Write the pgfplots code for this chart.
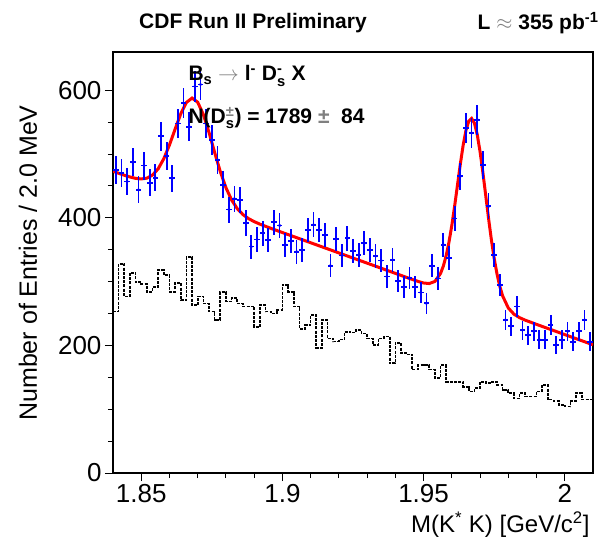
\documentclass[border=0pt]{standalone}
\usepackage{pgfplots}
\pgfplotsset{compat=1.18}
\usepackage{pgfplotstable}
\usepackage{amsmath}
\usepackage{fontspec}
\setmainfont{Liberation Sans}

\pgfplotstableread{
x y ey
1.841 475 21.8
1.843 470 21.7
1.845 457 21.4
1.847 487 22.1
1.849 444 21.1
1.851 482 22.0
1.853 455 21.3
1.855 463 21.5
1.857 528 23.0
1.859 497 22.3
1.861 462 21.5
1.863 548 23.4
1.865 580 24.1
1.867 543 23.3
1.869 606 24.6
1.871 609 24.7
1.873 548 23.4
1.875 522 22.8
1.877 491 22.2
1.879 452 21.3
1.881 413 20.3
1.883 430 20.7
1.885 428 20.7
1.887 392 19.8
1.889 355 18.8
1.891 366 19.1
1.893 376 19.4
1.895 365 19.1
1.897 393 19.8
1.899 388 19.7
1.901 358 18.9
1.903 364 19.1
1.905 347 18.6
1.907 350 18.7
1.909 381 19.5
1.911 389 19.7
1.913 381 19.5
1.915 373 19.3
1.917 325 18.0
1.919 367 19.2
1.921 341 18.5
1.923 368 19.2
1.925 348 18.7
1.927 342 18.5
1.929 360 19.0
1.931 350 18.7
1.933 340 18.4
1.935 333 18.2
1.937 308 17.5
1.939 334 18.3
1.941 301 17.3
1.943 291 17.1
1.945 306 17.5
1.947 292 17.1
1.949 283 16.8
1.951 266 16.3
1.953 325 18.0
1.955 305 17.5
1.957 358 18.9
1.959 337 18.4
1.961 399 20.0
1.963 465 21.6
1.965 541 23.3
1.967 533 23.1
1.969 554 23.5
1.971 483 22.0
1.973 418 20.4
1.975 342 18.5
1.977 295 17.2
1.979 240 15.5
1.981 230 15.2
1.983 261 16.2
1.985 224 15.0
1.987 216 14.7
1.989 222 14.9
1.991 209 14.5
1.993 209 14.5
1.995 232 15.2
1.997 201 14.2
1.999 209 14.5
2.001 222 14.9
2.003 206 14.4
2.005 222 14.9
2.007 240 15.5
2.009 206 14.4
}\datatable

\pgfplotstableread{
x y
1.840 253
1.842 328
1.844 277
1.846 314
1.848 299
1.850 296
1.852 284
1.854 292
1.856 318
1.858 310
1.860 284
1.862 298
1.864 271
1.866 339
1.868 263
1.870 277
1.872 266
1.874 253
1.876 240
1.878 284
1.880 269
1.882 274
1.884 266
1.886 261
1.888 261
1.890 229
1.892 263
1.894 253
1.896 250
1.898 256
1.900 295
1.902 284
1.904 261
1.906 226
1.908 232
1.910 248
1.912 196
1.914 240
1.916 211
1.918 206
1.920 209
1.922 221
1.924 220
1.926 224
1.928 219
1.930 211
1.932 201
1.934 211
1.936 214
1.938 172
1.940 204
1.942 188
1.944 186
1.946 162
1.948 169
1.950 169
1.952 162
1.954 149
1.956 169
1.958 143
1.960 143
1.962 143
1.964 135
1.966 128
1.968 133
1.970 143
1.972 141
1.974 143
1.976 138
1.978 130
1.980 125
1.982 117
1.984 125
1.986 120
1.988 120
1.990 128
1.992 138
1.994 115
1.996 113
1.998 107
2.000 104
2.002 113
2.004 125
2.006 115
2.008 115
2.010 115
}\histtable

\begin{document}
\begin{tikzpicture}
\useasboundingbox (-113pt,-66pt) rectangle (494pt,473pt);
\begin{axis}[
  at={(0pt,0pt)}, anchor=south west,
  scale only axis, width=480pt, height=421pt,
  xmin=1.84, xmax=2.01, ymin=0, ymax=660,
  xtick={1.85,1.9,1.95,2}, xticklabels={1.85,1.9,1.95,2},
  ytick={0,200,400,600}, yticklabels={0,200,400,600},
  minor x tick num=4, minor y tick num=3,
  xtick pos=bottom, ytick pos=left,
  tick align=outside,
  major tick length=8pt, minor tick length=5pt,
  axis line style={line width=1.6pt},
  every tick/.style={black, line width=1pt},
  ticklabel style={font=\fontsize{26}{26}\selectfont},
  clip=true,
]
\addplot[const plot, black, line width=1.6pt, dash pattern=on 3pt off 1.2pt] table[x=x,y=y] {\histtable};
\addplot[red, line width=3pt] coordinates {
(1.840,473.0) (1.842,469.9) (1.844,466.8) (1.846,464.1) (1.848,461.9) (1.850,461.0)
(1.852,462.2) (1.854,467.1) (1.856,476.9) (1.858,492.8) (1.860,514.3) (1.862,539.1)
(1.864,563.1) (1.866,580.9) (1.868,587.8) (1.870,581.2) (1.872,562.0) (1.874,534.0)
(1.876,502.5) (1.878,472.5) (1.880,447.3) (1.882,428.1) (1.884,414.5) (1.886,405.2)
(1.888,398.8) (1.890,394.1) (1.892,390.2) (1.896,383.4) (1.900,377) (1.910,361)
(1.920,345) (1.930,329) (1.940,313) (1.945,305) (1.948,300.4) (1.950,297.9)
(1.952,297.0) (1.954,300.3) (1.956,312.8) (1.957,324.5) (1.958,340.8) (1.959,362.1)
(1.960,388.3) (1.961,418.6) (1.962,451.3) (1.963,483.9) (1.964,513.5) (1.965,537.0)
(1.966,551.7) (1.967,555.8) (1.968,548.5) (1.969,530.6) (1.970,503.9) (1.971,471.1)
(1.972,435.3) (1.973,399.4) (1.974,365.9) (1.975,336.5) (1.976,312.0) (1.977,292.5)
(1.978,277.6) (1.980,258.7) (1.982,249.0) (1.984,243.5) (1.986,239.6) (1.990,233)
(2.000,217) (2.010,201)
};
\addplot[blue, only marks, mark=*, mark size=1.4pt,
  error bars/.cd, y dir=both, y explicit, x dir=both, x fixed=0.001,
  error mark=none, error bar style={blue, line width=1.8pt}]
  table[x=x, y=y, y error=ey] {\datatable};
\end{axis}
\node[font=\bfseries\fontsize{21}{21}\selectfont] at (140pt,450pt) {CDF Run II Preliminary};
\node[font=\bfseries\fontsize{21}{21}\selectfont, anchor=east] at (489pt,450pt) {L {\color{gray}$\approx$} 355 pb$^{\text{-1}}$};
\node[font=\bfseries\fontsize{21}{21}\selectfont, anchor=west] at (72pt,397pt) {B$_{\text{s}}$ {\color{gray}$\rightarrow$} l$^{\text{-}}$ D$_{\text{s}}^{\text{-}}$ X};
\node[font=\bfseries\fontsize{21}{21}\selectfont, anchor=west] at (72pt,355pt) {N(D$_{\text{s}}^{\text{\color{gray}±}}$) = 1789 {\color{gray}±} \ 84};
\node[font=\fontsize{24}{24}\selectfont, anchor=east] at (480pt,-52pt) {M(K$^{\text{*}}$ K) [GeV/c$^{\text{2}}$]};
\node[font=\fontsize{25}{25}\selectfont, rotate=90] at (-85pt,210pt) {Number of Entries / 2.0 MeV};
\end{tikzpicture}
\end{document}
